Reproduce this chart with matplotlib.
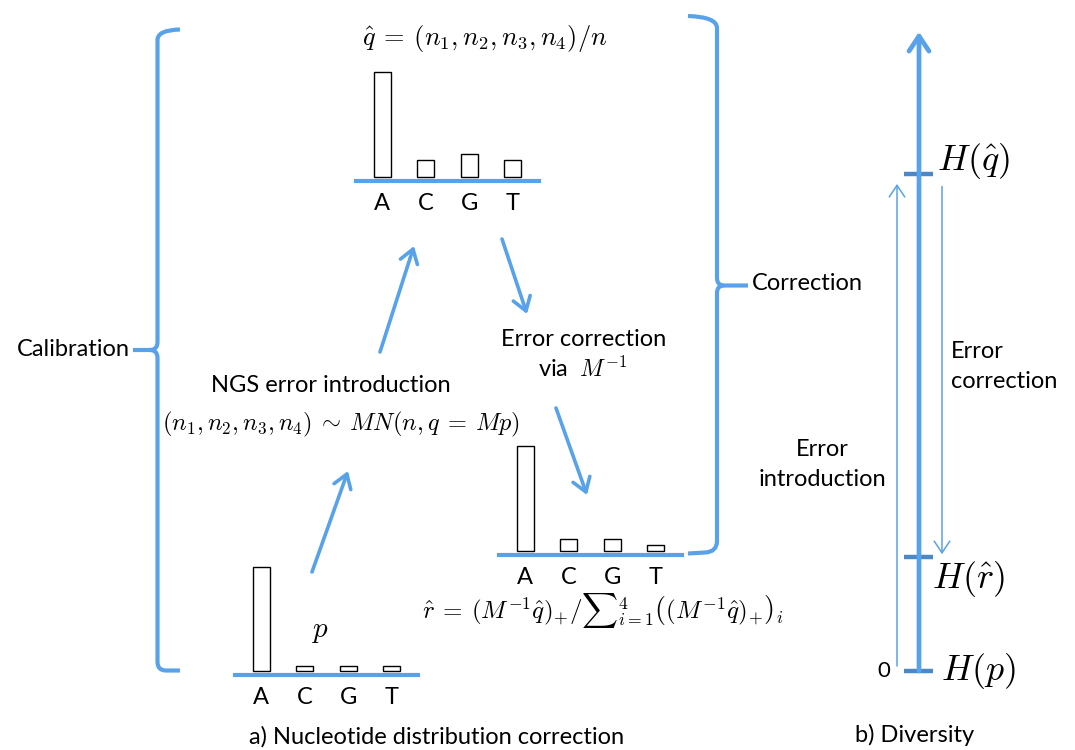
import matplotlib
matplotlib.use("Agg")
import matplotlib.pyplot as plt
from matplotlib.path import Path
from matplotlib.patches import PathPatch

plt.rcParams['font.family'] = ['Lato', 'DejaVu Sans']
plt.rcParams['mathtext.fontset'] = 'cm'

# nucleotide distributions (bar heights, A normalised to 1)
bases = ['A', 'C', 'G', 'T']
q_hat = [1.0, 0.16, 0.22, 0.16]   # observed (with NGS error)
r_hat = [1.0, 0.11, 0.11, 0.06]   # corrected
p_true = [1.0, 0.05, 0.05, 0.05]  # true distribution

# diversity scale (entropy, H(q_hat) normalised to 1)
h_names = ['$H(p)$', r'$H(\hat{r})$', r'$H(\hat{q})$']
h_values = [0.0, 0.23, 1.0]
h_top = 1.286

W, H = 1075, 750
blue = '#58a2ea'
tick_blue = '#4c88c6'
fs = 17

fig = plt.figure(figsize=(W / 100, H / 100), dpi=100)
ax = fig.add_axes([0, 0, 1, 1])
ax.set_xlim(0, W)
ax.set_ylim(H, 0)
ax.axis('off')


def bar_panel(left, baseline, values):
    # small bar chart whose x axis is a thick blue line
    b = fig.add_axes([left / W, 1 - baseline / H, 183 / W, 108 / H])
    b.bar(range(4), values, width=0.39, color='white', edgecolor='black',
          linewidth=1, clip_on=False)
    b.set_xlim(-0.6, 3.6)
    b.set_ylim(-0.035, 1.0)
    b.set_xticks(range(4), bases, fontsize=fs)
    b.tick_params(axis='x', length=0, pad=9)
    b.set_yticks([])
    for s in ['top', 'left', 'right']:
        b.spines[s].set_visible(False)
    b.spines['bottom'].set_color(blue)
    b.spines['bottom'].set_linewidth(3)
    b.patch.set_alpha(0)
    return b


bar_panel(356, 180.5, q_hat)
bar_panel(499, 554.5, r_hat)
bar_panel(235, 674.5, p_true)


def brace(points_a, points_b, lw=3):
    for pts in (points_a, points_b):
        verts = [p for p, c in pts]
        codes = [c for p, c in pts]
        ax.add_patch(PathPatch(Path(verts, codes), fill=False, edgecolor=blue,
                               lw=lw, capstyle='butt', joinstyle='round'))


M, L, C = Path.MOVETO, Path.LINETO, Path.CURVE3
# left brace (Calibration)
brace([((180, 29.5), M), ((157.5, 30), C), ((157.5, 40), C), ((157.5, 342), L),
       ((157.5, 350), C), ((150, 350), C), ((133, 350), L)],
      [((150, 350), M), ((157.5, 350), C), ((157.5, 358), C), ((157.5, 662), L),
       ((157.5, 670.5), C), ((166, 670.5), C), ((180, 670.5), L)])
# right brace (Correction)
brace([((688, 16), M), ((717, 17), C), ((717, 28), C), ((717, 278), L),
       ((717, 285.5), C), ((724, 285.5), C), ((748, 285.5), L)],
      [((724, 285.5), M), ((717, 285.5), C), ((717, 293), C), ((717, 541), L),
       ((717, 552), C), ((705, 552.5), C), ((688, 553.5), L)])


def arrow(a, tail, head, lw=2.6, scale=16):
    a.annotate('', xy=head, xytext=tail,
               arrowprops=dict(arrowstyle='->,head_length=0.6,head_width=0.4',
                               color=blue, lw=lw, mutation_scale=scale,
                               shrinkA=0, shrinkB=0))


arrow(ax, (380, 352), (414, 246))
arrow(ax, (312, 572), (348, 471))
arrow(ax, (502, 239), (527, 314))
arrow(ax, (556, 408), (587, 495))

# texts of panel a
ax.text(362, 38, r'$\hat{q} \:=\: (n_1, n_2, n_3, n_4)/n$', fontsize=19, ha='left', va='center')
ax.text(331, 385, 'NGS error introduction', fontsize=fs, ha='center', va='center')
ax.text(341, 424, r'$(n_1, n_2, n_3, n_4) \:\sim\: MN(n, q \:=\: Mp)$', fontsize=17.5,
        ha='center', va='center')
ax.text(584, 340, 'Error correction', fontsize=fs, ha='center', va='center')
ax.text(538, 368, 'via  $M^{-1}$', fontsize=fs, ha='left', va='center')
ax.text(130, 350, 'Calibration', fontsize=fs, ha='right', va='center')
ax.text(752, 283, 'Correction', fontsize=fs, ha='left', va='center')
ax.text(422, 610,
        r'$\hat{r} \:=\: (M^{-1}\hat{q})_{+} / {\sum}_{i=1}^{4} \left((M^{-1}\hat{q})_{+}\right)_{i}$',
        fontsize=18, ha='left', va='center')
ax.text(320, 632, '$p$', fontsize=21, ha='center', va='center')
ax.text(437, 737, 'a) Nucleotide distribution correction', fontsize=fs,
        ha='center', va='center')
ax.text(915, 735, 'b) Diversity', fontsize=fs, ha='center', va='center')

# panel b: diversity scale, y in entropy units
dax = fig.add_axes([0, 0, 1, 1])
dax.set_xlim(0, W)
span = 671 - 174
dax.set_ylim(-(H - 671) / span, 671 / span)
dax.axis('off')
dax.patch.set_alpha(0)

arrow(dax, (919, h_values[0]), (919, h_top), lw=3.4, scale=18)
label_offsets = [(8, 0), (-1, -22), (4, 13)]
for name, h, off in zip(h_names, h_values, label_offsets):
    dax.plot([904, 933], [h, h], color=tick_blue, lw=3.2, solid_capstyle='butt')
    dax.annotate(name, xy=(933, h), xytext=off, textcoords='offset pixels',
                 fontsize=26, ha='left', va='center')
dax.annotate('0', xy=(890, h_values[0]), ha='right', va='center', fontsize=16)

arrow(dax, (897, h_values[0] + 0.01), (897, h_values[2] - 0.02), lw=1.1, scale=14)
arrow(dax, (942, h_values[2] - 0.025), (942, h_values[1] + 0.005), lw=1.1, scale=14)
dax.text(822, 449, 'Error', fontsize=fs, ha='center', va='center',
         transform=ax.transData)
dax.text(822, 480, 'introduction', fontsize=fs, ha='center', va='center',
         transform=ax.transData)
dax.text(951, 352, 'Error', fontsize=fs, ha='left', va='center',
         transform=ax.transData)
dax.text(951, 382, 'correction', fontsize=fs, ha='left', va='center',
         transform=ax.transData)

fig.savefig('out.png', dpi=100)
